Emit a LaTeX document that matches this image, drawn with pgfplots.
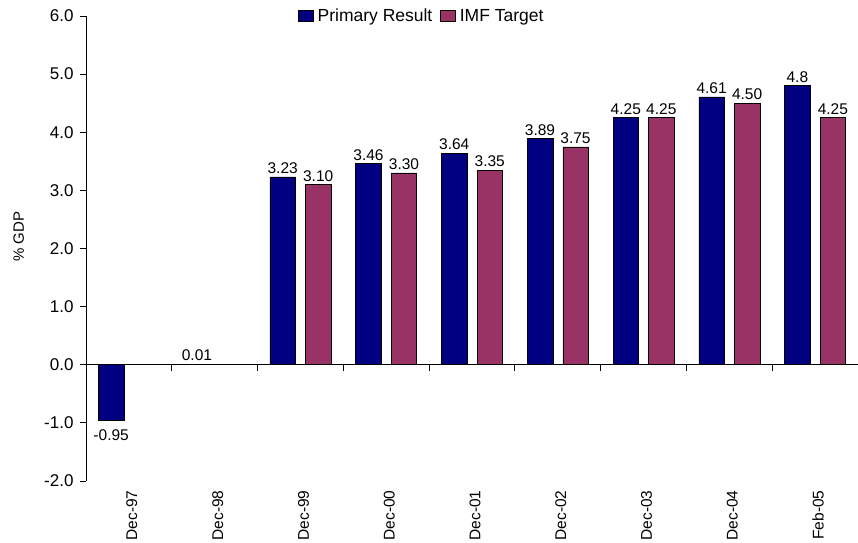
\documentclass[border=0pt]{standalone}
\usepackage{fontspec}
\setmainfont{Liberation Sans}
\usepackage{pgfplots}
\usepackage{pgfplotstable}
\pgfplotsset{compat=1.18}
\usetikzlibrary{calc}

\definecolor{navybar}{HTML}{000080}
\definecolor{plumbar}{HTML}{993366}

\pgfplotstableread{
x primary plab target tlab
0 -0.95 -0.95 nan  {}
1 0.01  0.01  nan  {}
2 3.23  3.23  3.10 3.10
3 3.46  3.46  3.30 3.30
4 3.64  3.64  3.35 3.35
5 3.89  3.89  3.75 3.75
6 4.25  4.25  4.25 4.25
7 4.61  4.61  4.50 4.50
8 4.80  4.8   4.25 4.25
}\balance

\begin{document}
\begin{tikzpicture}
\begin{axis}[
    name=ax,
    scale only axis,
    width=772pt, height=465pt,
    ybar=10pt, bar width=25.5pt,
    xmin=-0.5, xmax=8.5,
    ymin=-2, ymax=6,
    clip=false,
    axis y line*=left,
    axis x line*=bottom,
    x axis line style={draw=none},
    xtick={0,...,8},
    xticklabels={Dec-97,Dec-98,Dec-99,Dec-00,Dec-01,Dec-02,Dec-03,Dec-04,Feb-05},
    xtick style={draw=none},
    xticklabel style={rotate=90, anchor=east, font=\fontsize{15.5}{17}\selectfont, yshift=-3pt},
    ytick={-2,...,6},
    ytick style={black, line width=0.8pt},
    tick align=outside,
    major tick length=6pt,
    yticklabel style={font=\fontsize{17}{19}\selectfont, xshift=-3pt},
    yticklabel={\pgfmathprintnumber[fixed,fixed zerofill,precision=1,assume math mode=true]{\tick}},
    axis line style={line width=0.8pt},
    ylabel={\% GDP},
    ylabel style={font=\fontsize{15}{17}\selectfont, at={(axis description cs:-0.087,0.525)}, anchor=center},
    nodes near coords,
    point meta=explicit symbolic,
    every node near coord/.append style={font=\fontsize{15.5}{17}\selectfont, black, inner sep=3pt},
    legend columns=2,
    legend style={draw=none, fill=none, at={(0.435,1.0)}, anchor=center,
        font=\fontsize{17.5}{19}\selectfont,
        /tikz/every even column/.append style={column sep=6pt},
        /tikz/every odd column/.append style={column sep=2pt}},
    legend image code/.code={\draw[#1, draw=black, line width=0.5pt] (0pt,-5.5pt) rectangle (15pt,5.5pt);},
]
\addplot[fill=navybar, draw=black, line width=0.5pt,
    visualization depends on={ifthenelse(y<0,1,0) \as \isneg},
    every node near coord/.append style={anchor=south, yshift={-\isneg*24pt}}]
    table[x=x, y=primary, meta=plab] {\balance};
\addplot[fill=plumbar, draw=black, line width=0.5pt] table[x=x, y=target, meta=tlab] {\balance};
\legend{Primary Result, IMF Target}
\draw[black, line width=0.8pt] (axis cs:-0.5,0) -- (axis cs:8.5,0);
\pgfplotsinvokeforeach{0.5,1.5,2.5,3.5,4.5,5.5,6.5,7.5,8.5}{
  \draw[black, line width=0.8pt] (axis cs:#1,0) -- ++(0pt,-6pt);
}
\end{axis}
\pgfresetboundingbox
\path ($(ax.south west)+(-86pt,-62pt)$) rectangle ($(ax.north east)+(0pt,16pt)$);
\end{tikzpicture}
\end{document}
